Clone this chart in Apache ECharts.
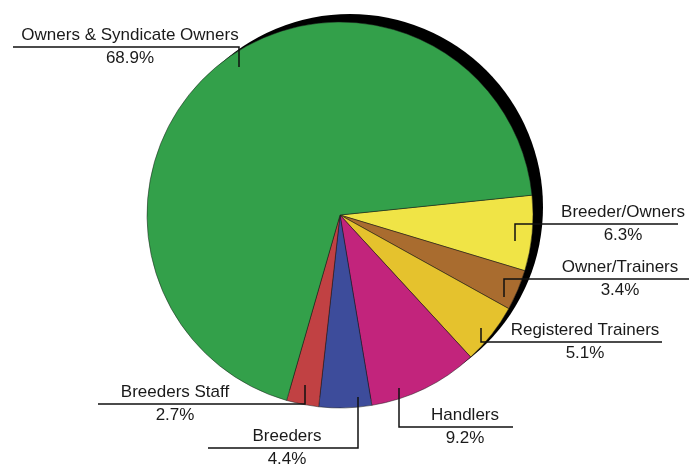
<!DOCTYPE html>
<html>
<head>
<meta charset="utf-8">
<script src="https://cdn.jsdelivr.net/npm/echarts@6/dist/echarts.min.js"></script>
<style>
  html, body { margin: 0; padding: 0; background: #fff; }
  #chart { width: 689px; height: 465px; }
</style>
</head>
<body>
<div id="chart"></div>
<script>
// categories, clockwise from the right edge
var categories = ['Breeder/Owners', 'Owner/Trainers', 'Registered Trainers', 'Handlers',
                  'Breeders', 'Breeders Staff', 'Owners & Syndicate Owners'];
var shares = [6.3, 3.4, 5.1, 9.2, 4.4, 2.7, 68.9];
var colors = ['#f0e446', '#a96c2f', '#e5c22d', '#c2247c', '#3d4c9b', '#c14143', '#33a04a'];

// label placement: text centre (x, line y), anchor inside slice, end of the underline
var labelPos = [
  { x: 623, y: 224, ax: 515, ay: 241, ex: 678 },
  { x: 620, y: 279, ax: 504, ay: 297, ex: 689 },
  { x: 585, y: 342, ax: 481, ay: 328, ex: 662 },
  { x: 465, y: 427, ax: 399, ay: 388, ex: 513 },
  { x: 287, y: 448, ax: 358, ay: 397, ex: 208 },
  { x: 175, y: 404, ax: 305, ay: 385, ex: 98 },
  { x: 130, y: 47, ax: 239, ay: 67, ex: 13 }
];

var CENTER = [340, 215];
var RADIUS = 193;
var START = 5.9;

var chart = echarts.init(document.getElementById('chart'));

var pieData = categories.map(function (c, i) {
  return { name: c, value: shares[i], itemStyle: { color: colors[i] } };
});
var labelData = categories.map(function (c, i) {
  return { name: c, value: shares[i] };
});

var font = 'Liberation Sans, Arial, sans-serif';

var option = {
  animation: false,
  series: [
    {
      // black drop shadow behind the pie
      type: 'pie',
      silent: true,
      z: 1,
      center: [350, 207],
      radius: RADIUS,
      data: [{ value: 1, itemStyle: { color: '#000' } }],
      label: { show: false },
      labelLine: { show: false }
    },
    {
      // coloured slices
      type: 'pie',
      z: 2,
      center: CENTER,
      radius: RADIUS,
      startAngle: START,
      clockwise: true,
      data: pieData,
      itemStyle: { borderColor: '#1a1a1a', borderWidth: 0.5 },
      label: { show: false },
      labelLine: { show: false }
    },
    {
      // same slices, transparent, carrying labels and leader lines on top
      type: 'pie',
      silent: true,
      z: 5,
      center: CENTER,
      radius: RADIUS,
      startAngle: START,
      clockwise: true,
      avoidLabelOverlap: false,
      data: labelData,
      itemStyle: { color: 'rgba(0,0,0,0)', borderWidth: 0 },
      label: {
        show: true,
        position: 'outside',
        formatter: function (p) { return '{n|' + p.name + '}\n{p|' + p.value + '%}'; },
        rich: {
          n: { fontFamily: font, fontSize: 17, lineHeight: 23, color: '#1a1a1a' },
          p: { fontFamily: font, fontSize: 17, lineHeight: 23, color: '#1a1a1a' }
        }
      },
      labelLine: {
        show: true,
        showAbove: true,
        lineStyle: { color: '#111', width: 1.5 }
      },
      labelLayout: function (params) {
        var l = labelPos[params.dataIndex];
        return {
          x: l.x,
          y: l.y,
          align: 'center',
          verticalAlign: 'middle',
          labelLinePoints: [[l.ax, l.ay], [l.ax, l.y], [l.ex, l.y]]
        };
      }
    }
  ]
};

chart.setOption(option);
</script>
</body>
</html>
